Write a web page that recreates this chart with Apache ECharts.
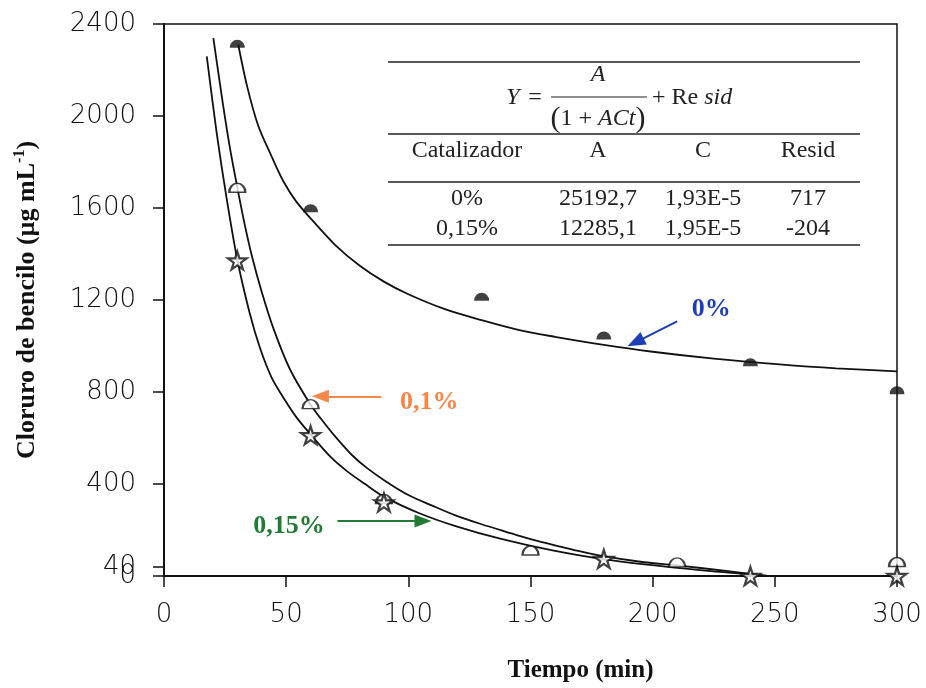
<!DOCTYPE html>
<html>
<head>
<meta charset="utf-8">
<script src="https://cdn.jsdelivr.net/npm/echarts@6/dist/echarts.min.js"></script>
<style>
  html, body { margin: 0; padding: 0; background: #fff; }
  #main { width: 926px; height: 688px; }
</style>
</head>
<body>
<div id="main"></div>
<script>
// curvas de ajuste
var curve0T = [30.4, 34, 38.5, 44, 48.9, 54, 60, 70, 80, 90, 100, 115, 130, 145, 160, 180, 200, 225, 252, 275, 300];
var curve0Y = [2310, 2130, 1960, 1825, 1715, 1630, 1555, 1440, 1350, 1280, 1225, 1160, 1112, 1070, 1040, 1005, 975, 945, 920, 903, 890];
var curve01T = [20.2, 24, 27, 30, 33, 36, 40, 45, 51.5, 60, 66, 71, 77, 83, 91, 100, 110, 119, 130, 140, 150, 160, 170, 181, 195, 211, 230, 247];
var curve01Y = [2339, 2060, 1860, 1690, 1530, 1390, 1235, 1070, 900, 745, 660, 595, 525, 470, 410, 352, 305, 265, 225, 192, 160, 133, 108, 84, 62, 45, 22, 0];
var curve015T = [17.5, 21.5, 25.5, 30, 35, 39.3, 44, 48.9, 54, 59.8, 68.7, 75, 82, 90, 104, 119, 138, 159, 181, 210, 230, 247];
var curve015Y = [2259, 1931, 1651, 1376, 1146, 991, 864, 775, 693, 618, 512, 455, 402, 345, 275, 218, 161, 111, 71, 35, 16, 0];

// puntos experimentales
var pts0T = [30, 60, 130, 180, 240, 300];
var pts0Y = [2314, 1599, 1214, 1046, 929, 808];
var pts01T = [30, 60, 90, 150, 210, 300];
var pts01Y = [1688, 747, 335, 111, 59, 61];
var pts015T = [30, 60, 90, 180, 240, 300];
var pts015Y = [1372, 612, 320, 74, 0, 0];

// ejes
var yTickValues = [0, 40, 400, 800, 1200, 1600, 2000, 2400];
var yLabelValues = [40, 400, 800, 1200, 1600, 2000, 2400];
var yZeroLabel = [0];

// tabla
var tableHeader = ['Catalizador', 'A', 'C', 'Resid'];
var tableRows = [
  ['0%', '25192,7', '1,93E-5', '717'],
  ['0,15%', '12285,1', '1,95E-5', '-204']
];

function pairs(t, y) {
  return t.map(function (v, i) { return [v, y[i]]; });
}

var dome = 'path://M0,10 A10,10 0 0 1 20,10 Z';
var star = 'path://M50,0 L61,35 L98,35 L68,57 L79,91 L50,70 L21,91 L32,57 L2,35 L39,35 Z';
var serif = '"Liberation Serif", "Times New Roman", serif';
var sans = '"DejaVu Sans", sans-serif';
var tickFont = { fontFamily: sans, fontSize: 26, color: '#111', fontWeight: 300 };

var chart = echarts.init(document.getElementById('main'));

function curve(name, t, y, extra) {
  var s = {
    name: name,
    type: 'line',
    data: pairs(t, y),
    smooth: 0.3,
    showSymbol: false,
    silent: true,
    lineStyle: { color: '#111', width: 1.8 },
    z: 3
  };
  return Object.assign(s, extra || {});
}

function arrow(from, to, color, size) {
  return [
    { coord: from, symbol: 'none', lineStyle: { color: color, width: 2, type: 'solid' } },
    { coord: to, symbol: 'triangle', symbolSize: size }
  ];
}

function tag(coord, text, color) {
  return {
    coord: coord,
    symbol: 'circle',
    symbolSize: 1,
    itemStyle: { color: 'rgba(0,0,0,0)' },
    label: {
      show: true, position: 'inside', formatter: text,
      color: color, fontFamily: serif, fontWeight: 'bold', fontSize: 26
    }
  };
}

chart.setOption({
  animation: false,
  backgroundColor: '#fff',
  grid: {
    left: 164, right: 29, top: 24, bottom: 111,
    show: true, borderColor: '#111', borderWidth: 1.5
  },
  xAxis: {
    type: 'value', min: 0, max: 300, interval: 50,
    name: 'Tiempo (min)',
    nameLocation: 'middle',
    nameGap: 82,
    nameTextStyle: {
      fontFamily: serif, fontWeight: 'bold', fontSize: 25, color: '#111',
      padding: [0, 0, 0, 100]
    },
    axisLine: { lineStyle: { color: '#111', width: 2 } },
    axisTick: { inside: false, length: 11, lineStyle: { color: '#111', width: 1.5 } },
    axisLabel: Object.assign({ margin: 26 }, tickFont),
    splitLine: { show: false }
  },
  yAxis: [
    {
      type: 'value', min: 0, max: 2400, interval: 400,
      name: '{n|Cloruro de bencilo (µg mL}{s|-1}{n|)}',
      nameLocation: 'middle',
      nameGap: 122,
      nameTextStyle: {
        rich: {
          n: { fontFamily: serif, fontWeight: 'bold', fontSize: 26, color: '#111', lineHeight: 30 },
          s: { fontFamily: serif, fontWeight: 'bold', fontSize: 16, color: '#111', verticalAlign: 'top', lineHeight: 18 }
        }
      },
      axisLine: { show: true, lineStyle: { color: '#111', width: 2 } },
      axisTick: {
        show: true, inside: false, length: 11, customValues: yTickValues,
        lineStyle: { color: '#111', width: 1.5 }
      },
      axisLabel: Object.assign({
        margin: 28, customValues: yLabelValues,
        formatter: function (v) { return String(v); }
      }, tickFont),
      splitLine: { show: false }
    },
    {
      // segunda capa solo para la etiqueta "0" (se solapa con "40")
      type: 'value', min: 0, max: 2400, position: 'left',
      axisLine: { show: false },
      axisTick: { show: false },
      axisLabel: Object.assign({
        margin: 28, customValues: yZeroLabel,
        formatter: function (v) { return String(v); }
      }, tickFont),
      splitLine: { show: false }
    }
  ],
  series: [
    curve('0%', curve0T, curve0Y, {
      markLine: {
        silent: true,
        label: { show: false },
        lineStyle: { type: 'solid', width: 2 },
        data: [
          arrow([210, 1107], [193, 1016], '#1e3fb4', [14, 18]),
          arrow([89, 781], [64, 781], '#f4874a', [13, 17]),
          arrow([71, 239], [106, 239], '#237a34', [13, 17])
        ]
      },
      markPoint: {
        silent: true,
        data: [
          tag([224, 1159], '0%', '#1e3fb4'),
          tag([108.6, 755], '0,1%', '#f4874a'),
          tag([51.2, 217], '0,15%', '#237a34')
        ]
      }
    }),
    curve('0,1%', curve01T, curve01Y),
    curve('0,15%', curve015T, curve015Y),
    {
      name: '0% datos', type: 'scatter', data: pairs(pts0T, pts0Y),
      symbol: dome, symbolSize: [15, 8], clip: false, z: 5,
      itemStyle: { color: '#111' }
    },
    {
      name: '0,1% datos', type: 'scatter', data: pairs(pts01T, pts01Y),
      symbol: dome, symbolSize: [16, 9], clip: false, z: 5,
      itemStyle: { color: '#fff', borderColor: '#111', borderWidth: 1.8 }
    },
    {
      name: '0,15% datos', type: 'scatter', data: pairs(pts015T, pts015Y),
      symbol: star, symbolSize: [19, 18], clip: false, z: 6,
      itemStyle: { color: '#fff', borderColor: '#111', borderWidth: 2.2 }
    }
  ],
  graphic: buildTable()
});

function buildTable() {
  var els = [];
  var x1 = 388, x2 = 860;
  [62, 134, 182, 245].forEach(function (y) {
    els.push({ type: 'line', shape: { x1: x1, y1: y, x2: x2, y2: y }, style: { stroke: '#222', lineWidth: 1.3 } });
  });
  var base = { fontFamily: serif, fontSize: 24, fill: '#222' };
  function txt(x, y, text, extra) {
    els.push({
      type: 'text', x: x, y: y,
      style: Object.assign({ text: text, align: 'center', verticalAlign: 'middle' }, base, extra || {})
    });
  }
  // formula
  txt(513, 98, 'Y', { fontStyle: 'italic' });
  txt(535, 98, '=');
  txt(598, 75, 'A', { fontStyle: 'italic' });
  els.push({ type: 'line', shape: { x1: 551, y1: 97, x2: 647, y2: 97 }, style: { stroke: '#222', lineWidth: 1.2 } });
  txt(598, 119, '{p|(}{r|1 + }{i|ACt}{p|)}', {
    rich: {
      p: { fontFamily: serif, fontSize: 30, fill: '#222' },
      r: { fontFamily: serif, fontSize: 24, fill: '#222' },
      i: { fontFamily: serif, fontSize: 24, fill: '#222', fontStyle: 'italic' }
    }
  });
  txt(652, 98, '{r|+ Re }{i|sid}', {
    align: 'left',
    rich: {
      r: { fontFamily: serif, fontSize: 24, fill: '#222' },
      i: { fontFamily: serif, fontSize: 24, fill: '#222', fontStyle: 'italic' }
    }
  });
  var cols = [467, 598, 703, 808];
  tableHeader.forEach(function (h, i) { txt(cols[i], 151, h); });
  tableRows.forEach(function (row, r) {
    row.forEach(function (c, i) { txt(cols[i], r === 0 ? 199 : 229, c); });
  });
  return els;
}
</script>
</body>
</html>
